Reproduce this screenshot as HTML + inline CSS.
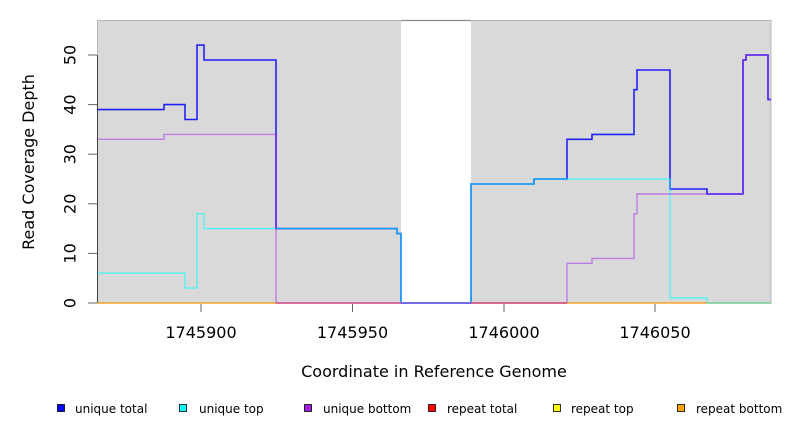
<!DOCTYPE html>
<html>
<head>
<meta charset="utf-8">
<style>
  html, body { margin: 0; padding: 0; background: #ffffff; }
  body { width: 792px; height: 432px; overflow: hidden; }
  svg { display: block; font-family: "DejaVu Sans", "Liberation Sans", sans-serif; }
</style>
</head>
<body>
<svg width="792" height="432" viewBox="0 0 792 432" xmlns="http://www.w3.org/2000/svg">
  <!-- plot background -->
  <rect x="97.5" y="20.5" width="673.5" height="282.5" fill="#d9d9d9" stroke="#b8b8b8" stroke-width="1"/>
  <!-- gap region -->
  <rect x="401" y="21" width="70" height="282" fill="#ffffff"/>
  <line x1="401" y1="20.5" x2="471" y2="20.5" stroke="#8a8a8a" stroke-width="1.2"/>

  <!-- y axis line -->
  <line x1="97.5" y1="55" x2="97.5" y2="303" stroke="#444" stroke-width="1"/>
  <!-- y ticks -->
  <g stroke="#666" stroke-width="1">
    <line x1="88" y1="303" x2="97" y2="303"/>
    <line x1="88" y1="253.4" x2="97" y2="253.4"/>
    <line x1="88" y1="203.8" x2="97" y2="203.8"/>
    <line x1="88" y1="154.2" x2="97" y2="154.2"/>
    <line x1="88" y1="104.6" x2="97" y2="104.6"/>
    <line x1="88" y1="55" x2="97" y2="55"/>
  </g>
  <g font-size="16" fill="#000" text-anchor="middle">
    <text transform="translate(75.5,303) rotate(-90)">0</text>
    <text transform="translate(75.5,253.4) rotate(-90)">10</text>
    <text transform="translate(75.5,203.8) rotate(-90)">20</text>
    <text transform="translate(75.5,154.2) rotate(-90)">30</text>
    <text transform="translate(75.5,104.6) rotate(-90)">40</text>
    <text transform="translate(75.5,55) rotate(-90)">50</text>
  </g>
  <text transform="translate(34,162) rotate(-90)" font-size="16" text-anchor="middle" fill="#000">Read Coverage Depth</text>

  <!-- x ticks -->
  <g stroke="#666" stroke-width="1">
    <line x1="201" y1="304" x2="201" y2="312"/>
    <line x1="352.5" y1="304" x2="352.5" y2="312"/>
    <line x1="504" y1="304" x2="504" y2="312"/>
    <line x1="655" y1="304" x2="655" y2="312"/>
  </g>
  <g font-size="16" fill="#000" text-anchor="middle">
    <text x="201" y="338">1745900</text>
    <text x="352.5" y="338">1745950</text>
    <text x="504" y="338">1746000</text>
    <text x="655" y="338">1746050</text>
  </g>
  <text x="434" y="377" font-size="16" text-anchor="middle" fill="#000">Coordinate in Reference Genome</text>

  <!-- series -->
  <g fill="none" stroke-linejoin="miter" stroke-linecap="butt">
    <!-- unique total -->
    <polyline stroke="#0000ff" stroke-opacity="0.85" stroke-width="1.6"
      points="97.5,109.6 164,109.6 164,104.6 185,104.6 185,119.5 197,119.5 197,45.1 204,45.1 204,60 276,60 276,228.6 397,228.6 397,233.6 401,233.6 401,303 471,303 471,184 534,184 534,179 567,179 567,139.3 592,139.3 592,134.4 634,134.4 634,89.7 637,89.7 637,70 670,70 670,189 707,189 707,194 743,194 743,60 746,60 746,55 768,55 768,99.6 771,99.6"/>
    <!-- unique top -->
    <polyline stroke="#00ffff" stroke-opacity="0.6" stroke-width="1.4"
      points="97.5,273.2 185,273.2 185,288.1 197,288.1 197,213.7 204,213.7 204,228.6 397,228.6 397,233.6 401,233.6 401,303 471,303 471,184 534,184 534,179 670,179 670,298 707,298 707,303 771,303"/>
    <!-- unique bottom -->
    <polyline stroke="#a020f0" stroke-opacity="0.5" stroke-width="1.4"
      points="97.5,139.3 164,139.3 164,134.4 276,134.4 276,303 567,303 567,263.3 592,263.3 592,258.4 634,258.4 634,213.7 637,213.7 637,194 743,194 743,60 746,60 746,55 768,55 768,99.6 771,99.6"/>
    <!-- repeat lines along zero -->
    <line x1="97.5" y1="303" x2="276" y2="303" stroke="#f5a030" stroke-width="1.5"/>
    <line x1="276" y1="303" x2="401" y2="303" stroke="#d55080" stroke-width="1.5"/>
    <line x1="401" y1="303" x2="471" y2="303" stroke="#7060e0" stroke-width="1.5"/>
    <line x1="471" y1="303" x2="567" y2="303" stroke="#d55070" stroke-width="1.5"/>
    <line x1="567" y1="303" x2="707" y2="303" stroke="#f5a030" stroke-width="1.5"/>
    <line x1="707" y1="303" x2="771" y2="303" stroke="#90c890" stroke-width="1.5"/>
  </g>

  <!-- legend -->
  <g stroke="#000" stroke-width="0.8">
    <rect x="57.5" y="404.5" width="7" height="7" fill="#0000ff"/>
    <rect x="179.5" y="404.5" width="7" height="7" fill="#00ffff"/>
    <rect x="304.5" y="404.5" width="7" height="7" fill="#a020f0"/>
    <rect x="428.5" y="404.5" width="7" height="7" fill="#ff0000"/>
    <rect x="553.5" y="404.5" width="7" height="7" fill="#ffff00"/>
    <rect x="677.5" y="404.5" width="7" height="7" fill="#ffa500"/>
  </g>
  <g font-size="12" fill="#000">
    <text x="75" y="413">unique total</text>
    <text x="199" y="413">unique top</text>
    <text x="323" y="413">unique bottom</text>
    <text x="447" y="413">repeat total</text>
    <text x="571" y="413">repeat top</text>
    <text x="696" y="413">repeat bottom</text>
  </g>
</svg>
</body>
</html>
